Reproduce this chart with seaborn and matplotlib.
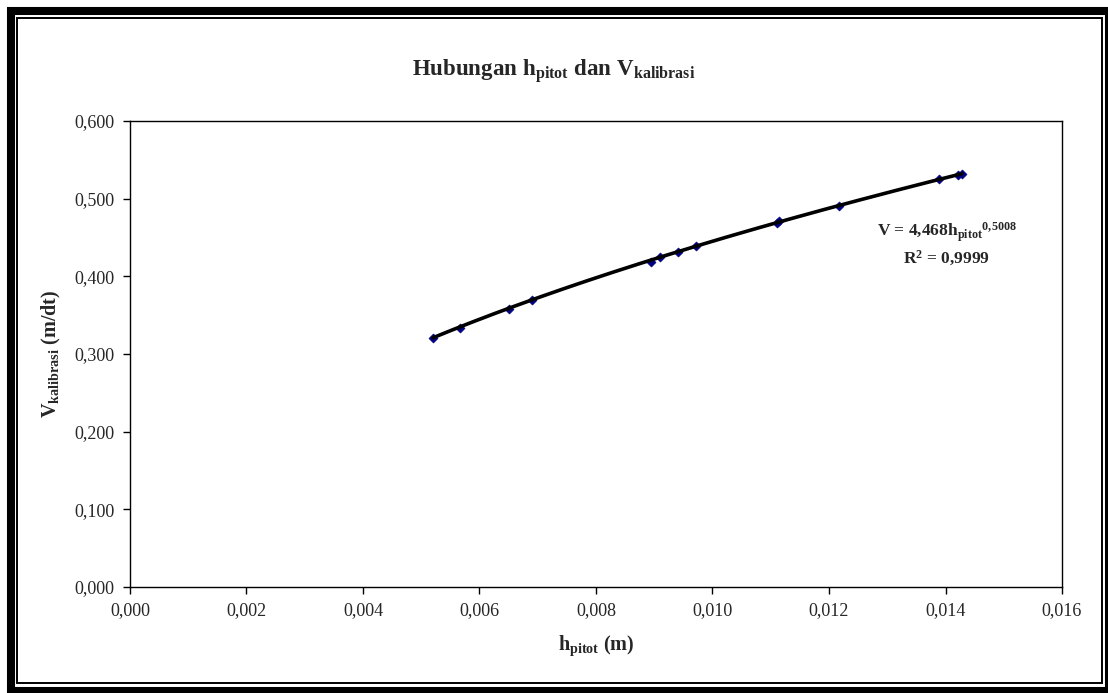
import numpy as np
import pandas as pd
import matplotlib
matplotlib.use("Agg")
import matplotlib.pyplot as plt
import seaborn as sns
from matplotlib.ticker import FuncFormatter, MultipleLocator
from matplotlib.patches import Rectangle

# data
h_pitot = [0.00520, 0.00567, 0.00650, 0.00690, 0.00895, 0.00910, 0.00940,
           0.00972, 0.01110, 0.01115, 0.01218, 0.01388, 0.01422, 0.01428]
v_kalibrasi = [0.321, 0.334, 0.358, 0.369, 0.419, 0.425, 0.431,
               0.439, 0.469, 0.471, 0.491, 0.525, 0.530, 0.532]
coef_a = 4.468
coef_b = 0.5008

sns.set_theme(style="white")
plt.rcParams['font.family'] = ['Liberation Serif', 'DejaVu Serif']
plt.rcParams['mathtext.fontset'] = 'custom'
plt.rcParams['mathtext.rm'] = 'Liberation Serif'
plt.rcParams['mathtext.it'] = 'Liberation Serif'
plt.rcParams['mathtext.bf'] = 'Liberation Serif:bold'

df = pd.DataFrame({'h': h_pitot, 'v': v_kalibrasi})
h_fit = np.linspace(min(h_pitot), max(h_pitot), 200)
fit = pd.DataFrame({'h': h_fit, 'v': coef_a * h_fit ** coef_b})

fig = plt.figure(figsize=(11.08, 6.93), dpi=100)
ax = fig.add_axes([0.1173, 0.153, 0.8412, 0.6724])

sns.scatterplot(data=df, x='h', y='v', marker='D', s=22, color='#000080',
                edgecolor='#000080', ax=ax, zorder=2)
sns.lineplot(data=fit, x='h', y='v', color='black', linewidth=2.6, ax=ax, zorder=3)

ax.set_xlim(0, 0.016)
ax.set_ylim(0, 0.6)
ax.xaxis.set_major_locator(MultipleLocator(0.002))
ax.yaxis.set_major_locator(MultipleLocator(0.1))
fmt = FuncFormatter(lambda v, p: f"{v:.3f}".replace('.', ','))
ax.xaxis.set_major_formatter(fmt)
ax.yaxis.set_major_formatter(fmt)
ax.tick_params(axis='both', direction='out', length=5, width=1, color='black',
               labelsize=13, bottom=True, left=True, pad=6)
for s in ax.spines.values():
    s.set_color('black')
    s.set_linewidth(1)

ax.set_xlabel(r"$\mathbf{h_{pitot}\ (m)}$", fontsize=14.5, labelpad=10)
ax.set_ylabel(r"$\mathbf{V_{kalibrasi}\ (m/dt)}$", fontsize=14.5, labelpad=8)
fig.text(0.5, 0.898, r"$\mathbf{Hubungan\ h_{pitot}\ dan\ V_{kalibrasi}}$",
         ha='center', va='center', fontsize=16.5)

ax.text(0.01402, 0.457, r"V = 4,468h$_{\mathbf{pitot}}{}^{\mathbf{0{,}5008}}$",
        ha='center', va='center', fontsize=12.5, fontweight='bold')
ax.text(0.01402, 0.4236, r"R$^{\mathbf{2}}$ = 0,9999",
        ha='center', va='center', fontsize=12.5, fontweight='bold')

# double border around the figure
W, H = 1108, 693
fig.patches.append(Rectangle((11 / W, 2 / H), 1098 / W, 680 / H,
                             transform=fig.transFigure, fill=False,
                             edgecolor='black', linewidth=5.8))
fig.patches.append(Rectangle((17 / W, 10 / H), 1085 / W, 665.5 / H,
                             transform=fig.transFigure, fill=False,
                             edgecolor='black', linewidth=1.4))

fig.savefig("out.png", dpi=100)
